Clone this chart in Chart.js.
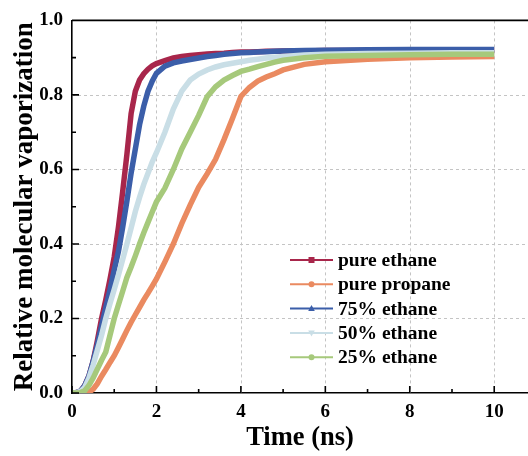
<!DOCTYPE html>
<html>
<head>
<meta charset="utf-8">
<script src="https://cdn.jsdelivr.net/npm/chart.js@4.4.1/dist/chart.umd.min.js"></script>
<style>
  html, body { margin: 0; padding: 0; background: #fff; }
  #wrap { width: 528px; height: 456px; }
</style>
</head>
<body>
<div id="wrap"><canvas id="vapChart" width="528" height="456"></canvas></div>
<script>
// time axis (ns)
const timeNs = [0, 0.1, 0.2, 0.3, 0.4, 0.5, 0.6, 0.7, 0.8, 0.9, 1.0, 1.1, 1.2, 1.3, 1.4, 1.5, 1.6, 1.7, 1.8, 1.9, 2.0,
  2.2, 2.4, 2.6, 2.8, 3.0, 3.2, 3.4, 3.6, 3.8, 4.0, 4.2, 4.4, 4.6, 4.8, 5.0, 5.5, 6.0, 7.0, 8.0, 9.0, 10.0];

const pureEthane = [0, 0.001, 0.005, 0.02, 0.045, 0.085, 0.14, 0.2, 0.25, 0.305, 0.365, 0.445, 0.54, 0.64, 0.75, 0.81, 0.84, 0.857, 0.869, 0.878, 0.884,
  0.892, 0.899, 0.903, 0.906, 0.908, 0.91, 0.911, 0.912, 0.914, 0.915, 0.915, 0.916, 0.917, 0.917, 0.918, 0.918, 0.919, 0.919, 0.919, 0.919, 0.919];
const purePropane = [0, 0, 0, 0, 0.002, 0.01, 0.025, 0.045, 0.063, 0.082, 0.1, 0.122, 0.145, 0.168, 0.19, 0.21, 0.23, 0.25, 0.268, 0.287, 0.306,
  0.352, 0.4, 0.455, 0.505, 0.552, 0.588, 0.627, 0.68, 0.737, 0.796, 0.82, 0.837, 0.848, 0.857, 0.867, 0.882, 0.889, 0.896, 0.9, 0.902, 0.903];
const ethane75 = [0, 0.001, 0.005, 0.02, 0.045, 0.085, 0.13, 0.18, 0.23, 0.277, 0.33, 0.38, 0.445, 0.515, 0.59, 0.655, 0.72, 0.77, 0.81, 0.837, 0.858,
  0.877, 0.886, 0.891, 0.895, 0.899, 0.903, 0.906, 0.909, 0.911, 0.913, 0.914, 0.915, 0.916, 0.917, 0.918, 0.919, 0.92, 0.921, 0.922, 0.922, 0.922];
const ethane50 = [0, 0.001, 0.004, 0.015, 0.04, 0.075, 0.115, 0.155, 0.2, 0.24, 0.278, 0.317, 0.358, 0.4, 0.443, 0.487, 0.525, 0.56, 0.59, 0.62, 0.645,
  0.7, 0.762, 0.81, 0.84, 0.856, 0.867, 0.875, 0.881, 0.885, 0.889, 0.893, 0.896, 0.899, 0.901, 0.903, 0.907, 0.909, 0.911, 0.912, 0.913, 0.913];
const ethane25 = [0, 0, 0.001, 0.006, 0.02, 0.04, 0.064, 0.088, 0.11, 0.155, 0.2, 0.237, 0.273, 0.31, 0.338, 0.368, 0.4, 0.43, 0.458, 0.486, 0.513,
  0.55, 0.6, 0.655, 0.7, 0.745, 0.795, 0.822, 0.84, 0.852, 0.863, 0.869, 0.876, 0.882, 0.888, 0.893, 0.9, 0.904, 0.906, 0.908, 0.909, 0.909];

const seriesNames = ["pure ethane", "pure propane", "75% ethane", "50% ethane", "25% ethane"];
const seriesValues = [pureEthane, purePropane, ethane75, ethane50, ethane25];
const seriesColors = ["#a8264b", "#ea8a60", "#3b5ea9", "#c9dee6", "#a6c97b"];
const seriesMarkers = ["rect", "circle", "triangle", "triangleDown", "circle"];

const xTicks = [0, 2, 4, 6, 8, 10];
const yTicks = [0, 0.2, 0.4, 0.6, 0.8, 1.0];
const xMinor = [1, 3, 5, 7, 9];
const yMinor = [0.1, 0.3, 0.5, 0.7, 0.9];

const FONT = "'Liberation Serif', 'Times New Roman', serif";

function markerPath(ctx, kind, x, y, r) {
    ctx.beginPath();
    if (kind === "rect") {
        ctx.rect(x - r, y - r, 2 * r, 2 * r);
    } else if (kind === "circle") {
        ctx.arc(x, y, r, 0, Math.PI * 2);
    } else if (kind === "triangle") {
        ctx.moveTo(x, y - r * 1.2); ctx.lineTo(x + r * 1.1, y + r * 0.8); ctx.lineTo(x - r * 1.1, y + r * 0.8);
        ctx.closePath();
    } else {
        ctx.moveTo(x, y + r * 1.2); ctx.lineTo(x + r * 1.1, y - r * 0.8); ctx.lineTo(x - r * 1.1, y - r * 0.8);
        ctx.closePath();
    }
    ctx.fill();
}

// dashed grid under the data, frame top line, inward ticks and the line+marker legend on top
const extrasPlugin = {
    id: "extras",
    beforeDatasetsDraw(chart) {
        const ctx = chart.ctx;
        const a = chart.chartArea;
        const xs = chart.scales.x, ys = chart.scales.y;
        ctx.save();
        ctx.strokeStyle = "#c4c4c4";
        ctx.lineWidth = 1;
        ctx.setLineDash([3, 3]);
        ctx.beginPath();
        xTicks.slice(1).forEach(v => {
            const px = Math.round(xs.getPixelForValue(v)) + 0.5;
            ctx.moveTo(px, a.top); ctx.lineTo(px, a.bottom);
        });
        yTicks.slice(1, -1).forEach(v => {
            const py = Math.round(ys.getPixelForValue(v)) + 0.5;
            ctx.moveTo(a.left, py); ctx.lineTo(a.right, py);
        });
        ctx.stroke();
        ctx.restore();
    },
    afterDraw(chart) {
        const ctx = chart.ctx;
        const a = chart.chartArea;
        const xs = chart.scales.x, ys = chart.scales.y;
        ctx.save();
        ctx.strokeStyle = "#000";
        ctx.lineWidth = 1.6;
        ctx.beginPath();
        ctx.moveTo(a.left, a.top); ctx.lineTo(a.right, a.top);
        xTicks.forEach(v => {
            const px = xs.getPixelForValue(v);
            ctx.moveTo(px, a.bottom); ctx.lineTo(px, a.bottom - 7);
        });
        xMinor.forEach(v => {
            const px = xs.getPixelForValue(v);
            ctx.moveTo(px, a.bottom); ctx.lineTo(px, a.bottom - 4);
        });
        yTicks.forEach(v => {
            const py = ys.getPixelForValue(v);
            ctx.moveTo(a.left, py); ctx.lineTo(a.left + 7, py);
        });
        yMinor.forEach(v => {
            const py = ys.getPixelForValue(v);
            ctx.moveTo(a.left, py); ctx.lineTo(a.left + 4, py);
        });
        ctx.stroke();

        // legend
        const x0 = 290, x1 = 333, y0 = 260, step = 24.3;
        ctx.font = "bold 19.5px " + FONT;
        ctx.textBaseline = "middle";
        ctx.textAlign = "left";
        seriesNames.forEach((name, i) => {
            const y = y0 + i * step;
            ctx.strokeStyle = seriesColors[i];
            ctx.fillStyle = seriesColors[i];
            ctx.lineWidth = 2;
            ctx.beginPath();
            ctx.moveTo(x0, y); ctx.lineTo(x1, y);
            ctx.stroke();
            markerPath(ctx, seriesMarkers[i], (x0 + x1) / 2, y, 3);
            ctx.fillStyle = "#000";
            ctx.fillText(name, 338, y + 1);
        });
        ctx.restore();
    }
};

const datasets = seriesNames.map((name, i) => ({
    label: name,
    data: timeNs.map((t, k) => ({ x: t, y: seriesValues[i][k] })),
    borderColor: seriesColors[i],
    backgroundColor: seriesColors[i],
    borderWidth: 5.5,
    pointRadius: 0,
    tension: 0,
    order: seriesNames.length - i
}));

const ctx = document.getElementById("vapChart").getContext("2d");
const vapChart = new Chart(ctx, {
    type: "line",
    data: { datasets: datasets },
    options: {
        responsive: false,
        animation: false,
        layout: { padding: { top: 18, right: 0, left: 0, bottom: 0 } },
        plugins: { legend: { display: false }, tooltip: { enabled: false } },
        scales: {
            x: {
                type: "linear",
                min: 0,
                max: 10.8,
                afterBuildTicks: s => { s.ticks = xTicks.map(v => ({ value: v })); },
                afterFit: s => { s.height = 63; },
                border: { display: true, color: "#000", width: 1.6 },
                grid: { display: false, drawTicks: false },
                ticks: {
                    color: "#000",
                    padding: 8,
                    maxRotation: 0,
                    font: { family: FONT, size: 19, weight: "bold" },
                    callback: v => String(v)
                },
                title: {
                    display: true,
                    text: "Time (ns)",
                    color: "#000",
                    font: { family: FONT, size: 26.5, weight: "bold" },
                    padding: { top: 0, bottom: 2 }
                }
            },
            y: {
                min: 0,
                max: 1.0,
                afterBuildTicks: s => { s.ticks = yTicks.map(v => ({ value: v })); },
                afterFit: s => { s.width = 72; },
                border: { display: true, color: "#000", width: 1.6 },
                grid: { display: false, drawTicks: false },
                ticks: {
                    color: "#000",
                    padding: 9,
                    font: { family: FONT, size: 19, weight: "bold" },
                    callback: v => v.toFixed(1)
                },
                title: {
                    display: true,
                    text: "Relative molecular vaporization",
                    color: "#000",
                    font: { family: FONT, size: 27, weight: "bold" },
                    padding: { top: 9, bottom: 0 }
                }
            }
        }
    },
    plugins: [extrasPlugin]
});
</script>
</body>
</html>
